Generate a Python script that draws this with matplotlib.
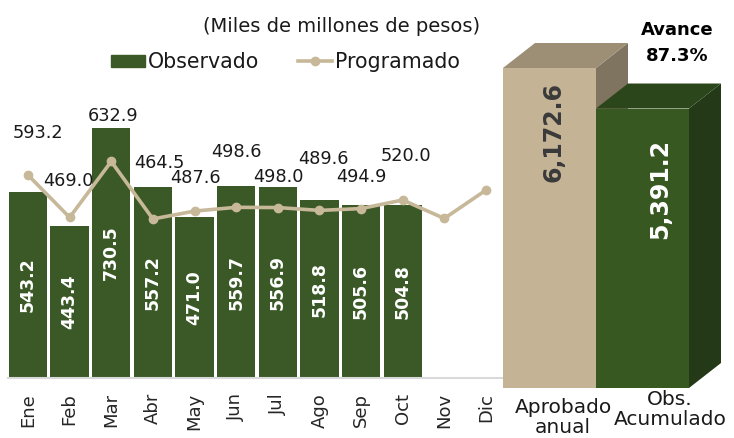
import matplotlib
matplotlib.use("Agg")
import matplotlib.pyplot as plt
from matplotlib.patches import Polygon, Rectangle
from matplotlib.lines import Line2D

plt.rcParams['font.family'] = ['DejaVu Sans']

# ---- data ----
months = ["Ene", "Feb", "Mar", "Abr", "May", "Jun", "Jul", "Ago", "Sep", "Oct", "Nov", "Dic"]
observado = [543.2, 443.4, 730.5, 557.2, 471.0, 559.7, 556.9, 518.8, 505.6, 504.8]
programado = [593.2, 469.0, 632.9, 464.5, 487.6, 498.6, 498.0, 489.6, 494.9, 520.0, 466.0, 549.0]
prog_labeled = 10
annual_cats = ["Aprobado\nanual", "Obs.\nAcumulado"]
annual_vals = [6172.6, 5391.2]

# ---- styles ----
GREEN = "#3A5926"
TAN_LINE = "#C6B898"
label_dy = [42, 36, 45, 56, 33, 55, 31, 51, 32, 44]   # pixel offsets of line labels
label_dx = [10, -1, 2, 6, 1, 0, 1, 4, 0, 3]
annual_lbl_dx = [0.04, 0.19]      # label offsets (bar widths)
annual_lbl_drop = [0.20, 0.25]    # label centre below bar top (fraction of max)

W, H = 734, 438
fig = plt.figure(figsize=(W / 100, H / 100), dpi=100)

def fx(px):
    return px / W

def fy(py):
    return 1 - py / H

# ---- left panel ----
base = 377.7
top = 100.0
scale = 0.3417
ax = fig.add_axes([fx(8), fy(base), fx(503) - fx(8), (base - top) / H])
ax.set_xlim(-0.48, 11.41)
ax.set_ylim(0, (base - top) / scale)
xs = list(range(len(months)))
ax.bar(xs[:len(observado)], observado, width=0.92, color=GREEN, zorder=2)
ax.plot(xs, programado, color=TAN_LINE, lw=2.6, marker='o', ms=6,
        mfc=TAN_LINE, mec=TAN_LINE, zorder=3, clip_on=False)
for i, v in enumerate(observado):
    ax.text(i, v / 2, f"{v:.1f}", rotation=90, ha='center', va='center',
            color='white', fontweight='bold', fontsize=12.5, zorder=4)
for i in range(prog_labeled):
    ax.annotate(f"{programado[i]:.1f}", (i, programado[i]),
                xytext=(label_dx[i], label_dy[i]), textcoords='offset pixels',
                ha='center', va='center', fontsize=12.8, color='#1a1a1a', zorder=5)
ax.set_xticks(xs)
ax.set_xticklabels(months, rotation=90, fontsize=13, color='#262626')
ax.tick_params(axis='x', length=0, pad=11)
ax.set_yticks([])
for s in ['top', 'left', 'right']:
    ax.spines[s].set_visible(False)
ax.spines['bottom'].set_color('#D9D9D9')
ax.spines['bottom'].set_linewidth(1.5)
ax.patch.set_alpha(0)

# title / legend
fig.text(fx(342), fy(27), "(Miles de millones de pesos)", ha='center', va='center',
         fontsize=14, color='#1a1a1a')
handles = [Rectangle((0, 0), 1, 1, color=GREEN),
           Line2D([0], [0], color=TAN_LINE, lw=2.6, marker='o', ms=6)]
leg = ax.legend(handles, ["Observado", "Programado"], ncol=2, frameon=False,
                loc='center left', bbox_to_anchor=(fx(111), fy(62)),
                bbox_transform=fig.transFigure, fontsize=14.8,
                handlelength=1.64, handleheight=0.55, handletextpad=0.15,
                columnspacing=1.9, borderpad=0, borderaxespad=0)
for t in leg.get_texts():
    t.set_color('#1a1a1a')

# ---- right panel (3D-like bars) ----
r_base, r_top = 388.0, 20.0
ax2 = fig.add_axes([fx(500), fy(r_base), fx(734) - fx(500), (r_base - r_top) / H])
unit_px = 93.0
ax2.set_xlim(-49.5 / unit_px, -49.5 / unit_px + 234 / unit_px)
vmax = annual_vals[0]
ymax = vmax / 320.0 * (r_base - r_top)
ax2.set_ylim(0, ymax)
ax2.axis('off')
dx = 32 / unit_px
dy = 25 * ymax / (r_base - r_top)

colors = [("#C4B495", "#9C8F75", "#7E7460"), ("#385822", "#2C461B", "#243918")]
txtcol = ["#3a3a3a", "white"]
for i, v in enumerate(annual_vals):
    front, topc, side = colors[i]
    x0, x1 = i - 0.5, i + 0.5
    ax2.add_patch(Polygon([(x1, 0), (x1 + dx, dy), (x1 + dx, v + dy), (x1, v)],
                          closed=True, color=side, lw=0, zorder=2 + 3 * i))
    ax2.add_patch(Polygon([(x0, v), (x1, v), (x1 + dx, v + dy), (x0 + dx, v + dy)],
                          closed=True, color=topc, lw=0, zorder=2 + 3 * i))
    ax2.add_patch(Rectangle((x0, 0), 1, v, color=front, lw=0, zorder=3 + 3 * i))
    ax2.text(i + annual_lbl_dx[i], v - annual_lbl_drop[i] * vmax, f"{v:,.1f}",
             rotation=90, ha='center', va='center',
             fontsize=17, fontweight='bold', color=txtcol[i], zorder=10)

fig.text(fx(563), fy(398), annual_cats[0], ha='center', va='top', fontsize=14.5,
         color='#1a1a1a', multialignment='center', linespacing=1.05)
fig.text(fx(670), fy(390), annual_cats[1], ha='center', va='top', fontsize=14.5,
         color='#1a1a1a', multialignment='center', linespacing=1.05)

pct = annual_vals[1] / annual_vals[0] * 100
fig.text(fx(677), fy(43), f"Avance\n{pct:.1f}%", ha='center', va='center',
         fontsize=13, fontweight='bold', color='black', linespacing=1.55)

fig.savefig("out.png", dpi=100)
